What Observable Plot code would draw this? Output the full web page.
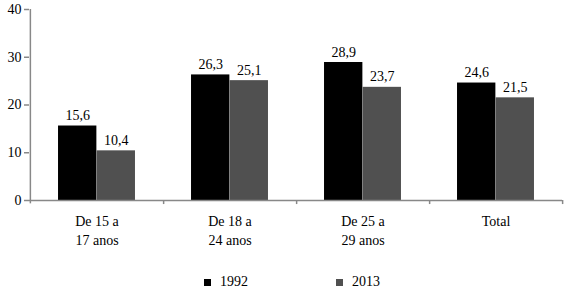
<!DOCTYPE html>
<html><head><meta charset="utf-8">
<script src="https://cdn.jsdelivr.net/npm/d3@7"></script>
<script src="https://cdn.jsdelivr.net/npm/@observablehq/plot@0.6"></script>
<style>
body{margin:0;background:#fff;}
#wrap{position:relative;width:569px;height:293px;font-family:"Liberation Serif","Times New Roman","DejaVu Serif",serif;}
#wrap svg, #wrap svg text{font-family:"Liberation Serif","Times New Roman","DejaVu Serif",serif !important;}
#legend{position:absolute;left:0;top:274px;width:569px;height:20px;font-size:14px;color:#000;}
.li{position:absolute;top:0;display:flex;align-items:center;}
.sw{width:7px;height:7px;display:inline-block;margin-right:9px;}
</style>
</head><body>
<div id="wrap"><div id="chart"></div><div id="legend"></div></div>
<script>
const groups = ["De 15 a\n17 anos", "De 18 a\n24 anos", "De 25 a\n29 anos", "Total"];
const years = ["1992", "2013"];
const values1992 = [15.6, 26.3, 28.9, 24.6];
const values2013 = [10.4, 25.1, 23.7, 21.5];
const colors = ["#000000", "#505050"];
const yTicks = [0, 10, 20, 30, 40];

const data = [];
groups.forEach((g, i) => {
  data.push({group: g, year: years[0], value: values1992[i]});
  data.push({group: g, year: years[1], value: values2013[i]});
});

const W = 569, ML = 29, MR = 7;
const step = (W - ML - MR) / groups.length;
const barW = 38.6;
const inner = step / 2 - barW;
const fmt = v => v.toFixed(1).replace(".", ",");
const axisColor = "#888";

const d1992 = data.filter(d => d.year === years[0]);
const d2013 = data.filter(d => d.year === years[1]);

const chart = Plot.plot({
  width: W, height: 293,
  marginLeft: ML, marginRight: MR, marginTop: 9, marginBottom: 93,
  style: {fontFamily: "'Liberation Serif', 'Times New Roman', 'DejaVu Serif', serif", fontSize: "14px", color: "#000"},
  x: {domain: groups, padding: 0, axis: null},
  y: {domain: [0, 40], axis: null},
  marks: [
    Plot.barY(d1992, {x: "group", y: "value", fill: colors[0], insetLeft: inner, insetRight: step / 2}),
    Plot.barY(d2013, {x: "group", y: "value", fill: colors[1], insetLeft: step / 2, insetRight: inner}),
    Plot.text(d1992, {x: "group", y: "value", text: d => fmt(d.value), dx: -(barW / 2), dy: -6, lineAnchor: "bottom", fontSize: 14}),
    Plot.text(d2013, {x: "group", y: "value", text: d => fmt(d.value), dx: barW / 2, dy: -6, lineAnchor: "bottom", fontSize: 14}),
    // y axis
    Plot.ruleX([0], {x: () => groups[0], y1: -0.7, y2: 40, dx: -step / 2, stroke: axisColor, strokeWidth: 1.5}),
    Plot.axisY({ticks: yTicks, tickSize: 5, tickPadding: 3, stroke: axisColor, strokeWidth: 1.5, fontSize: 14, tickFormat: d => d, anchor: "left", label: null}),
    // x axis line and boundary ticks
    Plot.ruleY([0], {stroke: axisColor, strokeWidth: 1.5}),
    Plot.ruleX(groups, {x: d => d, y1: 0, y2: -0.85, dx: step / 2, stroke: axisColor, strokeWidth: 1.5}),
    // category labels
    Plot.text(groups, {x: d => d, y: 0, text: d => d, dy: 12, lineAnchor: "top", lineHeight: 1.35, fontSize: 14})
  ]
});
document.getElementById("chart").appendChild(chart);

const legendPos = [204, 336];
const lg = document.getElementById("legend");
years.forEach((y, i) => {
  const el = document.createElement("div");
  el.className = "li";
  el.style.left = legendPos[i] + "px";
  el.innerHTML = `<span class="sw" style="background:${colors[i]}"></span><span>${y}</span>`;
  lg.appendChild(el);
});
</script>
</body></html>
